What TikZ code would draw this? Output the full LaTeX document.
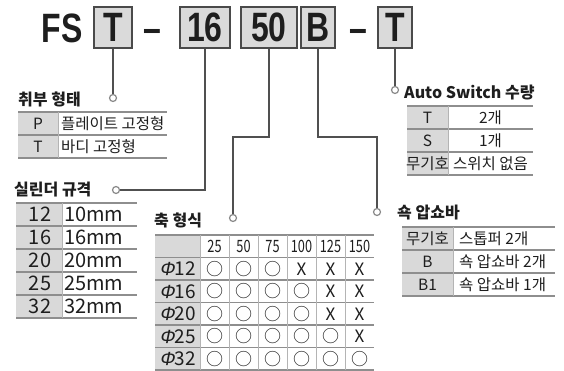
\documentclass[tikz,border=0pt]{standalone}
\usepackage{fontspec}
\setmainfont{Noto Sans CJK KR}
\newfontfamily\codefont[FakeStretch=0.78]{Liberation Sans}
\newfontfamily\phifont[FakeSlant=0.2]{Liberation Sans}
\newfontfamily\narrowfont[FakeStretch=0.75]{Noto Sans CJK KR}

\definecolor{boxgray}{HTML}{DADADA}
\definecolor{boxline}{HTML}{4A4A4A}
\definecolor{cellgray}{HTML}{D9D9D9}
\definecolor{rowline}{HTML}{8E8E8E}
\definecolor{colline}{HTML}{B4B4B4}
\definecolor{ink}{HTML}{1E1E1E}
\definecolor{wiregray}{HTML}{505050}
\definecolor{dotline}{HTML}{8A8A8A}

\tikzset{
  codebox/.style={draw=boxline, fill=boxgray, line width=1.5pt, minimum height=41pt,
    inner sep=0pt, text=ink, font=\codefont\bfseries\fontsize{41}{41}\selectfont},
  codetext/.style={inner sep=0pt, anchor=base, text=ink, font=\codefont\bfseries\fontsize{41}{41}\selectfont},
  link/.style={draw=wiregray, line width=1.3pt},
  dot/.style={circle, draw=dotline, fill=white, line width=1.2pt, inner sep=0pt, minimum size=7pt},
  heading/.style={anchor=west, inner sep=0pt, text=ink, font=\bfseries\fontsize{16}{16}\selectfont},
  cell/.style={inner sep=0pt, text=ink, font=\fontsize{15.5}{15.5}\selectfont},
  bigcell/.style={cell, font=\fontsize{20}{20}\selectfont},
  hline/.style={draw=rowline, line width=1.1pt},
  vline/.style={draw=colline, line width=0.8pt}
}

\begin{document}
\begin{tikzpicture}[x=1pt, y=-1pt]
  \useasboundingbox (0,0) rectangle (564,371);

  % Codigo do modelo
  \node[codetext] (FS) at (62,43) {FS};
  \node[codebox, minimum width=38pt] (boxT) at (113,27.5) {T};
  \node[codetext] (dashA) at (152,43) {–};
  \node[codebox, minimum width=50pt] (box16) at (205,27.5) {16};
  \node[codebox, minimum width=56pt] (box50) at (269,27.5) {50};
  \node[codebox, minimum width=34pt] (boxB) at (318,27.5) {B};
  \node[codetext] (dashB) at (358,43) {–};
  \node[codebox, minimum width=34pt] (boxTT) at (395,27.5) {T};

  % Pontos e titulos
  \node[dot] (dotA) at (113,98) {};
  \node[dot] (dotB) at (116,190) {};
  \node[dot] (dotC) at (233,218) {};
  \node[dot] (dotD) at (377,212) {};
  \node[dot] (dotE) at (395,90) {};
  \node[heading] (headA) at (18,99) {취부 형태};
  \node[heading] (headB) at (14,190) {실린더 규격};
  \node[heading] (headC) at (154,220) {축 형식};
  \node[heading] (headD) at (397,213) {쇽 압쇼바};
  \node[heading] (headE) at (404,93) {Auto Switch 수량};

  % Ligacoes
  \coordinate (bendC) at (269,137);
  \coordinate (bendD) at (318,137);
  \draw[link] (boxT.south) -- (dotA);
  \draw[link] (box16.south) |- (dotB);
  \draw[link] (box50.south) -- (bendC) -| (dotC);
  \draw[link] (boxB.south) -- (bendD) -| (dotD);
  \draw[link] (boxTT.south) -- (dotE);

  % Tabela de fixacao
  \fill[cellgray] (18,112) rectangle (58,158);
  \draw[hline] (18,112) -- (167,112) (18,135) -- (167,135) (18,158) -- (167,158);
  \draw[vline] (58,112) -- (58,158);
  \node[cell] (fixP) at (38,123.5) {P};
  \node[cell, anchor=west] (fixPv) at (61,123.5) {플레이트 고정형};
  \node[cell] (fixT) at (38,146.5) {T};
  \node[cell, anchor=west] (fixTv) at (61,146.5) {바디 고정형};

  % Tabela de diametro
  \fill[cellgray] (16,203) rectangle (62,318);
  \foreach \k in {0,...,5}
    \draw[hline] (16,{203+23*\k}) -- (137,{203+23*\k});
  \draw[vline] (62,203) -- (62,318);
  \foreach \d/\v [count=\i] in {12/10mm,16/16mm,20/20mm,25/25mm,32/32mm} {
    \node[bigcell] (bore\i) at (40,{191.5+23*\i}) {\d};
    \node[bigcell, anchor=west] (size\i) at (64,{191.5+23*\i}) {\v};
  }

  % Tabela de curso
  \fill[cellgray] (155,235) rectangle (200,370);
  \foreach \k in {0,...,6}
    \draw[hline] (155,{235+22.5*\k}) -- (374,{235+22.5*\k});
  \foreach \k in {0,...,5}
    \draw[vline] ({200+29*\k},235) -- ({200+29*\k},370);
  \foreach \s [count=\j] in {25,50,75,100,125,150}
    \node[cell, font=\narrowfont\fontsize{17}{17}\selectfont] (stroke\j) at ({185.5+29*\j},246.5) {\s};
  \foreach \d/\n [count=\i] in {12/3,16/4,20/4,25/5,32/6} {
    \node[cell, font=\fontsize{19}{19}\selectfont] (rod\i) at (177.5,{246.5+22.5*\i}) {{\phifont Φ}\d};
    \foreach \j in {1,...,6}
      \node[cell, font=\fontsize{17}{17}\selectfont] (ok\i-\j) at ({185.5+29*\j},{246.5+22.5*\i})
        {\ifnum\j>\n X\else ○\fi};
  }

  % Tabela de sensores
  \fill[cellgray] (407,106) rectangle (448,175);
  \draw[hline] (407,106) -- (533,106) (407,129) -- (533,129) (407,152) -- (533,152) (407,175) -- (533,175);
  \draw[vline] (448,106) -- (448,175);
  \foreach \k/\v [count=\i] in {T/2개,S/1개,무기호/스위치 없음} {
    \node[cell] (sw\i) at (427.5,{94.5+23*\i}) {\k};
    \node[cell] (swv\i) at (490.5,{94.5+23*\i}) {\v};
  }

  % Tabela de amortecedor
  \fill[cellgray] (402,227) rectangle (453,296);
  \draw[hline] (402,227) -- (555,227) (402,250) -- (555,250) (402,273) -- (555,273) (402,296) -- (555,296);
  \draw[vline] (453,227) -- (453,296);
  \foreach \k/\v [count=\i] in {무기호/스톱퍼 2개,B/쇽 압쇼바 2개,B1/쇽 압쇼바 1개} {
    \node[cell] (ab\i) at (427.5,{215.5+23*\i}) {\k};
    \node[cell, anchor=west] (abv\i) at (459,{215.5+23*\i}) {\v};
  }
\end{tikzpicture}
\end{document}
